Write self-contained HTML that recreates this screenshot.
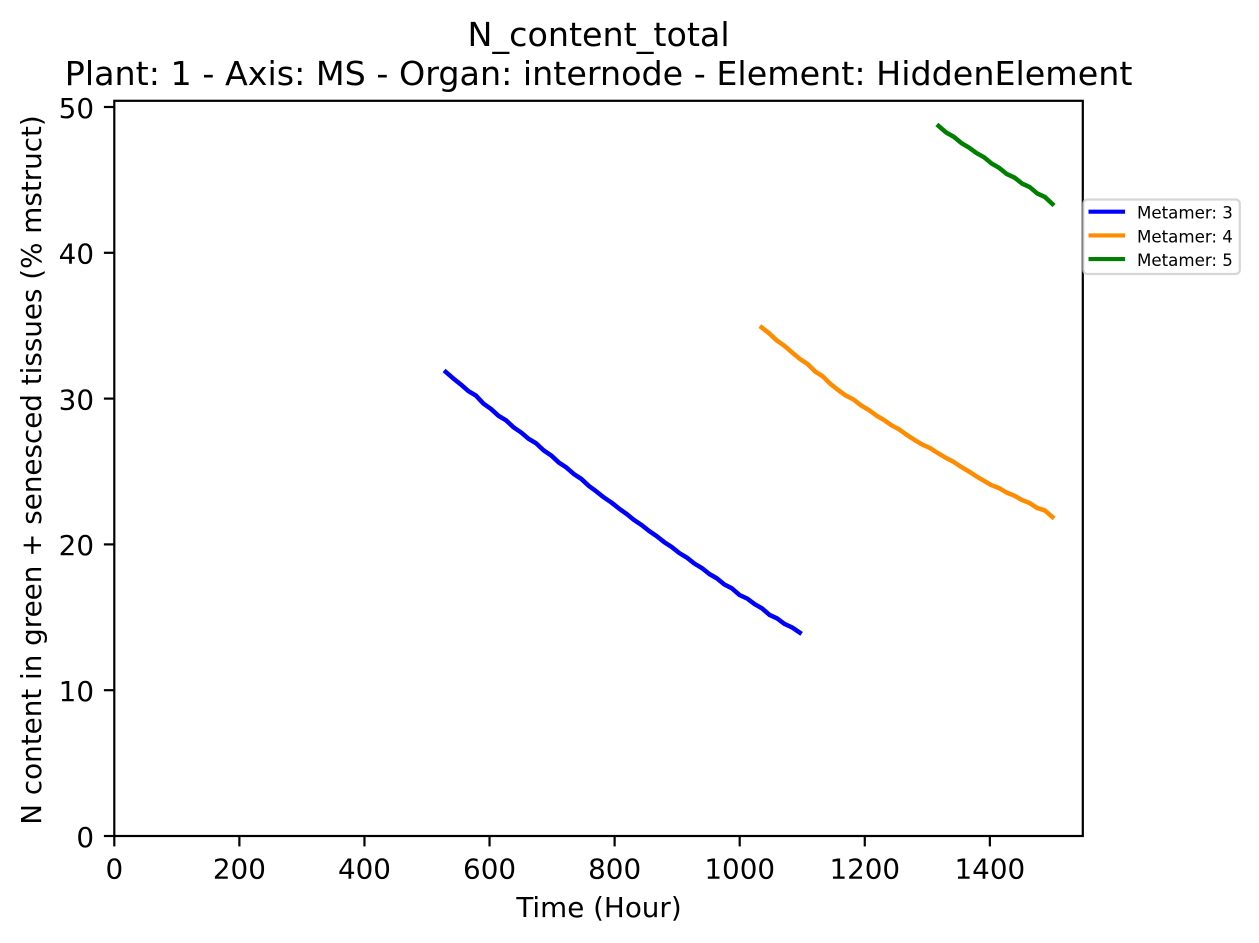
<!DOCTYPE html>
<html lang="en">
<head>
<meta charset="utf-8">
<title>N_content_total</title>
<style>
html,body{margin:0;padding:0;background:#fff;width:1259px;height:943px;overflow:hidden}
svg{display:block}
text{font-family:"DejaVu Sans","Liberation Sans",sans-serif;fill:#000}
</style>
</head>
<body>
<svg id="chart" xmlns="http://www.w3.org/2000/svg" width="1259" height="943" viewBox="0 0 1259 943">
<rect width="1259" height="943" fill="#fff"/>
<text x="598.6" y="46" font-size="33.33" text-anchor="middle">N_content_total</text>
<text x="598.6" y="85" font-size="33.33" text-anchor="middle">Plant: 1 - Axis: MS - Organ: internode - Element: HiddenElement</text>
<text x="599" y="917" font-size="27.78" text-anchor="middle">Time (Hour)</text>
<text transform="translate(41,470) rotate(-90)" font-size="27.78" text-anchor="middle">N content in green + senesced tissues (% mstruct)</text>
<g id="ticks"></g>
<g id="series"></g>
<rect x="114.3" y="100.8" width="968.5" height="735.2" fill="none" stroke="#000" stroke-width="2.2"/>
<g id="legend">
<rect x="1083.3" y="199.5" width="156.5" height="74.5" rx="4" ry="4" fill="#fff" fill-opacity="0.8" stroke="#ccc" stroke-opacity="0.8" stroke-width="2.2"/>
</g>
</svg>
<script>
const xTickValues = [0, 200, 400, 600, 800, 1000, 1200, 1400];
const yTickValues = [0, 10, 20, 30, 40, 50];
const seriesNames = ["Metamer: 3", "Metamer: 4", "Metamer: 5"];
const seriesColors = ["#0000ff", "#ff8c00", "#008000"];
const metamer3Start = 530;
const metamer3End = 1096;
const metamer4Start = 1035;
const metamer4End = 1500;
const metamer5Start = 1318;
const metamer5End = 1500;
const metamer3Values = [31.83,31.38,30.97,30.52,30.21,29.66,29.29,28.82,28.51,28.03,27.68,27.24,26.93,26.45,26.10,25.62,25.28,24.83,24.49,24.01,23.63,23.22,22.87,22.46,22.09,21.67,21.33,20.92,20.57,20.16,19.82,19.41,19.10,18.69,18.38,17.97,17.67,17.25,16.98,16.53,16.29,15.91,15.61,15.16,14.92,14.54,14.30,13.95];
const metamer4Values = [34.88,34.47,33.98,33.61,33.16,32.72,32.37,31.86,31.52,31.00,30.59,30.21,29.94,29.53,29.22,28.84,28.53,28.16,27.88,27.50,27.16,26.85,26.61,26.27,25.96,25.69,25.34,25.03,24.69,24.38,24.07,23.87,23.56,23.35,23.05,22.84,22.50,22.33,21.88];
const metamer5Values = [48.70,48.25,47.96,47.53,47.22,46.84,46.55,46.12,45.82,45.40,45.16,44.75,44.51,44.07,43.83,43.35];

const NS = "http://www.w3.org/2000/svg";
const plotLeft = 114.3, plotBottom = 836;
const xScale = 0.6254, yScale = 14.58;
function xPos(t) { return plotLeft + t * xScale; }
function yPos(v) { return plotBottom - v * yScale; }
function make(tag, attrs) {
  const el = document.createElementNS(NS, tag);
  for (const k in attrs) el.setAttribute(k, attrs[k]);
  return el;
}
const tickGroup = document.getElementById("ticks");
xTickValues.forEach(function (v) {
  const tick = make("line", {x1: xPos(v), x2: xPos(v), y1: plotBottom, y2: plotBottom + 10.4, stroke: "#000", "stroke-width": 2.2});
  
  
  tickGroup.appendChild(tick);
  const label = make("text", {x: xPos(v), y: 878.3, "font-size": 27.78, "text-anchor": "middle"});
  
  
  label.textContent = v;
  tickGroup.appendChild(label);
});
yTickValues.forEach(function (v) {
  const tick = make("line", {x1: plotLeft - 10.4, x2: plotLeft, y1: yPos(v), y2: yPos(v), stroke: "#000", "stroke-width": 2.2});
  
  
  tickGroup.appendChild(tick);
  const label = make("text", {x: 94, y: yPos(v) + 10.8, "font-size": 27.78, "text-anchor": "end"});
  
  
  label.textContent = v;
  tickGroup.appendChild(label);
});
function linePoints(values, start, end) {
  return values.map(function (v, i) {
    const t = start + (end - start) * i / (values.length - 1);
    return xPos(t).toFixed(2) + "," + yPos(v).toFixed(2);
  }).join(" ");
}
const seriesGroup = document.getElementById("series");
function addSeries(points, color) {
  const line = make("polyline", {points: points, fill: "none", stroke: color, "stroke-width": 4.5, "stroke-linecap": "square", "stroke-linejoin": "round"});
  
  
  seriesGroup.appendChild(line);
}
addSeries(linePoints(metamer3Values, metamer3Start, metamer3End), seriesColors[0]);
addSeries(linePoints(metamer4Values, metamer4Start, metamer4End), seriesColors[1]);
addSeries(linePoints(metamer5Values, metamer5Start, metamer5End), seriesColors[2]);
const legendGroup = document.getElementById("legend");
seriesNames.forEach(function (name, i) {
  const rowY = 211.7 + i * 23.7;
  const swatch = make("line", {x1: 1088.5, x2: 1125, y1: rowY, y2: rowY, stroke: seriesColors[i], "stroke-width": 4.17});
  
  
  legendGroup.appendChild(swatch);
  const label = make("text", {x: 1137, y: rowY + 7, "font-size": 16.67});
  
  
  label.textContent = name;
  legendGroup.appendChild(label);
});
</script>
</body>
</html>
